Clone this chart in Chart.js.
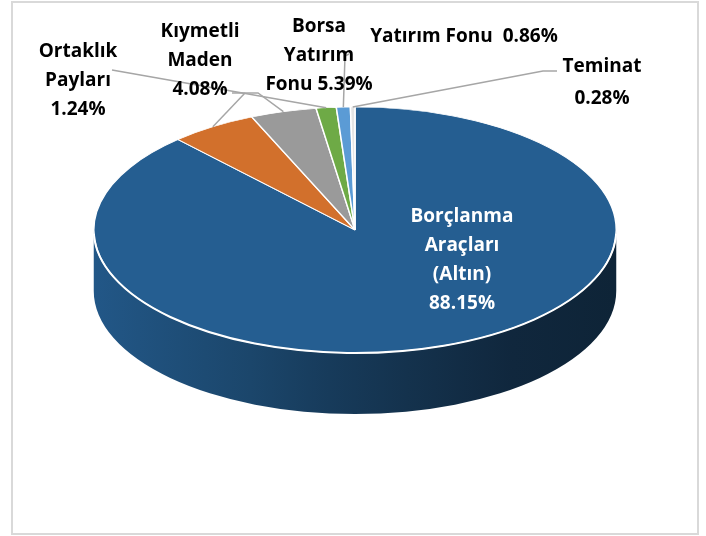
<!DOCTYPE html>
<html>
<head>
<meta charset="utf-8">
<script src="https://cdn.jsdelivr.net/npm/chart.js@4/dist/chart.umd.min.js"></script>
<style>
  body { margin: 0; background: #fff; }
  canvas { display: block; }
</style>
</head>
<body>
<canvas id="pie-chart" width="706" height="536"></canvas>
<script>
// Data
const categories = ['Borçlanma Araçları (Altın)', 'Borsa Yatırım Fonu', 'Kıymetli Maden', 'Ortaklık Payları', 'Yatırım Fonu', 'Teminat'];
const shares = [88.15, 5.39, 4.08, 1.24, 0.86, 0.28];
const sliceColors = ['#255E91', '#D2702C', '#9A9A9A', '#6EAA46', '#5B9BD5', '#E4E4E4'];

// Label placement (words per line, centre x, first baseline y, colour)
const labelLayout = [
  { words: [1, 1, 1, 1], x: 462, y: 222, color: '#fff' },
  { words: [1, 1, 2], x: 319, y: 32, color: '#000' },
  { words: [1, 1, 1], x: 200, y: 37, color: '#000' },
  { words: [1, 1, 1], x: 78, y: 57, color: '#000' },
  { words: [3], x: 464, y: 42, color: '#000', sep: '  ' },
  { words: [1, 1], x: 602, y: 72, color: '#000', gap: 32 }
];
// Leader line points on the label side, the slice end is taken from the arc
const leaderPoints = [
  null,
  [[245, 93]],
  [[232, 93], [258, 93]],
  [[112, 70]],
  [[349, 54], [345, 56]],
  [[557, 71], [543, 71]]
];

const topCenterY = 230;
const topRadiusY = 123;
const depth = 61;

function shade(hex, f) {
  const n = parseInt(hex.slice(1), 16);
  const r = Math.round(((n >> 16) & 255) * f);
  const g = Math.round(((n >> 8) & 255) * f);
  const b = Math.round((n & 255) * f);
  return `rgb(${r},${g},${b})`;
}

function geometry(chart) {
  const arcs = chart.getDatasetMeta(0).data;
  const a = arcs[0];
  const k = topRadiusY / a.outerRadius;
  return { arcs, cx: a.x, cy: a.y, rx: a.outerRadius, ry: a.outerRadius * k, k };
}

// Draws the side of the disc, flattens the top face, then the rim and labels
const pie3d = {
  id: 'pie3d',
  beforeDraw(chart) {
    const ctx = chart.ctx;
    ctx.save();
    ctx.strokeStyle = '#D9D9D9';
    ctx.lineWidth = 2;
    ctx.strokeRect(12, 2, 686, 532);
    ctx.restore();
  },
  beforeDatasetsDraw(chart) {
    const ctx = chart.ctx;
    const g = geometry(chart);

    g.arcs.forEach((arc, i) => {
      for (const shift of [0, 2 * Math.PI]) {
        const s = Math.max(arc.startAngle, shift);
        const e = Math.min(arc.endAngle, shift + Math.PI);
        if (e <= s) continue;
        const grad = ctx.createLinearGradient(g.cx - g.rx, 0, g.cx + g.rx, 0);
        grad.addColorStop(0, shade(sliceColors[i], 0.93));
        grad.addColorStop(0.3, shade(sliceColors[i], 0.74));
        grad.addColorStop(0.45, shade(sliceColors[i], 0.63));
        grad.addColorStop(0.6, shade(sliceColors[i], 0.53));
        grad.addColorStop(0.8, shade(sliceColors[i], 0.42));
        grad.addColorStop(1, shade(sliceColors[i], 0.38));
        ctx.save();
        ctx.beginPath();
        ctx.ellipse(g.cx, topCenterY, g.rx, g.ry, 0, s, e);
        ctx.ellipse(g.cx, topCenterY + depth, g.rx, g.ry, 0, e, s, true);
        ctx.closePath();
        ctx.fillStyle = grad;
        ctx.fill();
        ctx.restore();
      }
    });

    ctx.save();
    ctx.translate(0, topCenterY);
    ctx.scale(1, g.k);
    ctx.translate(0, -g.cy);
  },
  afterDatasetsDraw(chart) {
    const ctx = chart.ctx;
    ctx.restore();
    const g = geometry(chart);

    // white front rim
    ctx.save();
    ctx.beginPath();
    ctx.ellipse(g.cx, topCenterY, g.rx, g.ry, 0, 0.03, Math.PI - 0.03);
    ctx.strokeStyle = '#fff';
    ctx.lineWidth = 2;
    ctx.stroke();
    ctx.restore();

    // leader lines
    ctx.save();
    ctx.strokeStyle = '#A6A6A6';
    ctx.lineWidth = 1.5;
    g.arcs.forEach((arc, i) => {
      const pts = leaderPoints[i];
      if (!pts) return;
      const mid = (arc.startAngle + arc.endAngle) / 2;
      const ax = g.cx + g.rx * Math.cos(mid);
      const ay = topCenterY + g.ry * Math.sin(mid);
      ctx.beginPath();
      ctx.moveTo(pts[0][0], pts[0][1]);
      for (const p of pts.slice(1)) ctx.lineTo(p[0], p[1]);
      ctx.lineTo(ax, ay);
      ctx.stroke();
    });
    ctx.restore();

    // labels
    ctx.save();
    ctx.font = 'bold 19px "Open Sans"';
    ctx.textAlign = 'center';
    ctx.textBaseline = 'alphabetic';
    categories.forEach((name, i) => {
      const lay = labelLayout[i];
      const words = name.split(' ').concat(shares[i].toFixed(2) + '%');
      let idx = 0;
      ctx.fillStyle = lay.color;
      lay.words.forEach((count, line) => {
        const part = words.slice(idx, idx + count);
        idx += count;
        let text = part.join(' ');
        if (lay.sep && idx === words.length) {
          text = part.slice(0, -1).join(' ') + lay.sep + part[part.length - 1];
        }
        ctx.fillText(text, lay.x, lay.y + line * (lay.gap || 29));
      });
    });
    ctx.restore();
  }
};

new Chart(document.getElementById('pie-chart'), {
  type: 'pie',
  data: {
    labels: categories,
    datasets: [{
      data: shares,
      backgroundColor: sliceColors,
      borderColor: '#fff',
      borderWidth: 1.5,
      hoverOffset: 0
    }]
  },
  options: {
    responsive: false,
    animation: false,
    events: [],
    layout: {
      padding: { left: 93, right: 89, top: 6, bottom: 6 }
    },
    plugins: {
      legend: { display: false },
      tooltip: { enabled: false }
    }
  },
  plugins: [pie3d]
});
</script>
</body>
</html>
